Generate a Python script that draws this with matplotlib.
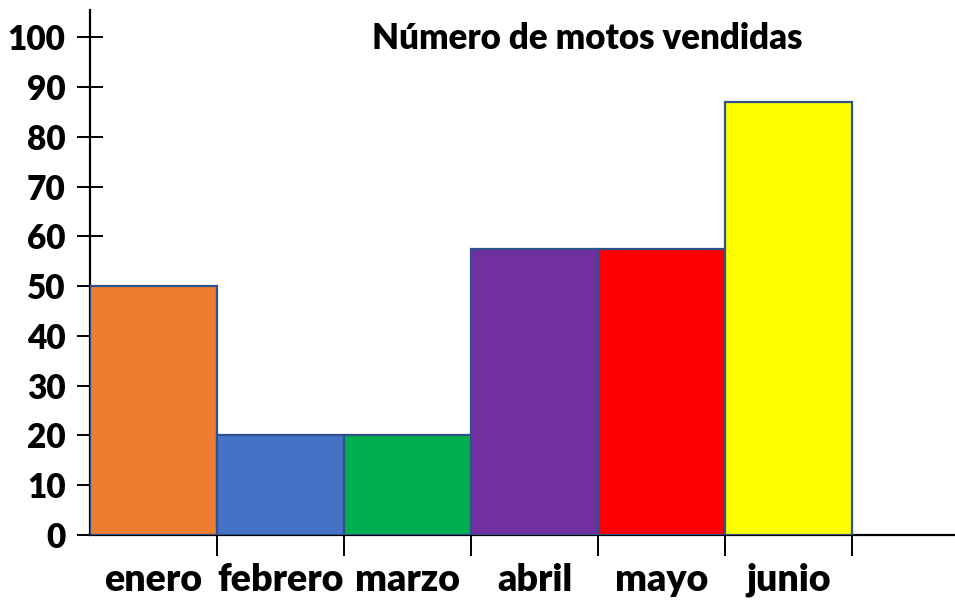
import numpy as np
import matplotlib as mpl
mpl.use("Agg")
import matplotlib.pyplot as plt

plt.rcParams['font.family'] = ['Lato', 'DejaVu Sans']

# datos
meses = ['enero', 'febrero', 'marzo', 'abril', 'mayo', 'junio']
ventas = [50, 20, 20, 57.5, 57.5, 87]
colores = ['#ED7D31', '#4472C4', '#00B050', '#7030A0', '#FF0000', '#FFFF00']
yticks = [0, 10, 20, 30, 40, 50, 60, 70, 80, 90, 100]

fig = plt.figure(figsize=(9.55, 6.05), dpi=100)
ax = fig.add_axes([90/955, 1 - 535/605, 865/955, 525/605])

x = np.arange(len(meses))
ax.bar(x, ventas, width=1, align='edge', color=colores,
       edgecolor='#2F528F', linewidth=1.6, zorder=3)

ax.set_xlim(0, 6.81)
ax.set_ylim(0, 105.5)

ax.spines['top'].set_visible(False)
ax.spines['right'].set_visible(False)
ax.spines['left'].set_linewidth(1.6)
ax.spines['bottom'].set_linewidth(1.6)

ax.set_yticks(yticks)
ax.set_yticklabels([str(v) for v in yticks], fontsize=24, fontweight='heavy')
ax.tick_params(axis='y', direction='inout', length=19, width=1.4, pad=8)

# marcas en los bordes de las barras, etiquetas centradas
ax.set_xticks(x + 1)
ax.set_xticklabels([])
ax.tick_params(axis='x', direction='out', length=15, width=1.4)
ax.set_xticks(x + 0.5, minor=True)
ax.set_xticklabels(meses, minor=True, fontsize=27, fontweight='heavy')
ax.tick_params(axis='x', which='minor', length=0, pad=20)

ax.text(0.575, 0.945, 'Número de motos vendidas', transform=ax.transAxes,
        ha='center', va='center', fontsize=25, fontweight='heavy')

plt.savefig('out.png', dpi=100)
